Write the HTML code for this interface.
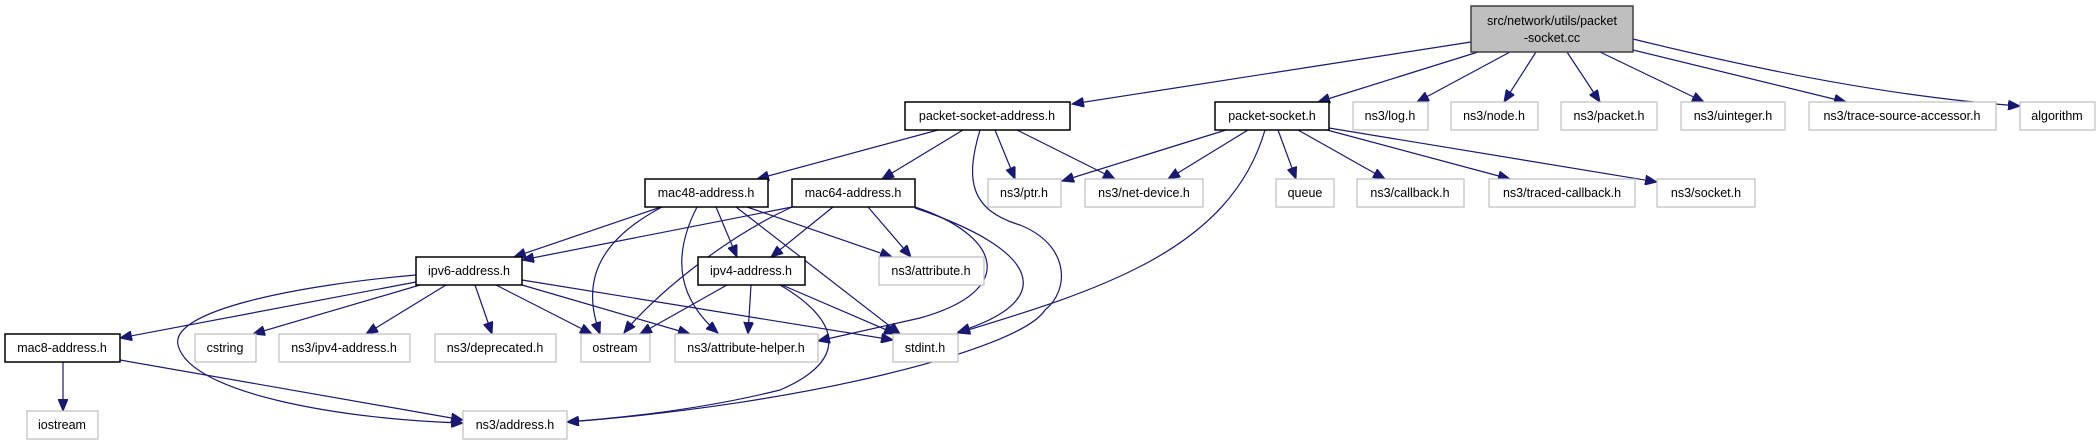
<!DOCTYPE html>
<html><head><meta charset="utf-8"><style>
html,body{margin:0;padding:0;background:#fff;}
svg{display:block;}
text{font-family:"Liberation Sans",sans-serif;font-size:12.5px;fill:#000;text-anchor:middle;}
.i{fill:#fff;stroke:#000;stroke-width:1.5;}
.e{fill:#fff;stroke:#bfbfbf;stroke-width:1.2;}
path{fill:none;stroke:#191970;stroke-width:1.2;}
</style></head><body>
<svg width="2100" height="445" viewBox="0 0 2100 445" xmlns="http://www.w3.org/2000/svg">
<defs><marker id="a" markerUnits="userSpaceOnUse" markerWidth="13" markerHeight="10" refX="12" refY="5" orient="auto"><path d="M0,0 L12,5 L0,10 Z" style="fill:#191970;stroke:#191970;stroke-width:1"/></marker></defs>
<g marker-end="url(#a)">
<!-- top -->
<path d="M1471,42 L1072,104"/>
<path d="M1478,52 L1318,102"/>
<path d="M1510,52 L1417,102"/>
<path d="M1536,52 L1504,102"/>
<path d="M1567,52 L1600,102"/>
<path d="M1600,52 L1704,102"/>
<path d="M1633,50 L1846,102"/>
<path d="M1633,39 Q1860,95 2020,106"/>
<!-- psa -->
<path d="M938,130 L757,179"/>
<path d="M963,130 L882,179"/>
<path d="M995,130 L1015,179"/>
<path d="M1017,130 L1115,179"/>
<path d="M980,130 C965,180 970,210 1020,225 C1070,245 1070,290 1045,310 C1020,350 800,405 567,422"/>
<!-- packet-socket.h -->
<path d="M1226,130 L1062,181"/>
<path d="M1248,130 L1168,179"/>
<path d="M1265,130 C1230,250 1100,290 958,333"/>
<path d="M1278,130 L1296,179"/>
<path d="M1298,130 L1385,179"/>
<path d="M1327,130 L1510,179"/>
<path d="M1329,128 L1657,182"/>
<!-- mac48 -->
<path d="M661,207 L514,257"/>
<path d="M662,207 C600,240 580,280 600,334"/>
<path d="M697,207 C670,260 680,300 718,333"/>
<path d="M716,207 L737,257"/>
<path d="M736,207 L900,334"/>
<path d="M747,207 L892,257"/>
<!-- mac64 -->
<path d="M792,207 L522,260"/>
<path d="M792,207 C720,240 650,300 624,333"/>
<path d="M833,207 L771,257"/>
<path d="M868,207 L911,257"/>
<path d="M915,207 C1000,235 1020,290 920,318 L818,341"/>
<path d="M915,208 C1040,250 1060,300 958,332"/>
<!-- ipv6 -->
<path d="M416,282 L120,338"/>
<path d="M420,285 L253,334"/>
<path d="M446,285 L366,334"/>
<path d="M475,285 L492,334"/>
<path d="M496,285 L592,334"/>
<path d="M522,285 L690,334"/>
<path d="M522,280 L893,340"/>
<path d="M416,275 C300,285 170,310 178,345 C190,395 350,420 463,423"/>
<!-- ipv4 -->
<path d="M727,285 L640,334"/>
<path d="M751,285 L748,334"/>
<path d="M782,285 L896,334"/>
<path d="M780,285 C840,320 850,360 780,390 C700,410 620,418 567,422"/>
<!-- mac8 -->
<path d="M63,362 L63,411"/>
<path d="M120,360 L463,420"/>
</g>
<!-- nodes -->
<rect x="1471" y="6" width="162" height="46" style="fill:#bfbfbf;stroke:#404040;stroke-width:1.5"/>
<text x="1552" y="25">src/network/utils/packet</text><text x="1552" y="42">-socket.cc</text>

<rect class="i" x="905" y="102" width="165" height="28"/><text x="987" y="120">packet-socket-address.h</text>
<rect class="i" x="1215" y="102" width="114" height="28"/><text x="1272" y="120">packet-socket.h</text>
<rect class="e" x="1353" y="102" width="75" height="28"/><text x="1390" y="120">ns3/log.h</text>
<rect class="e" x="1451" y="102" width="87" height="28"/><text x="1494" y="120">ns3/node.h</text>
<rect class="e" x="1561" y="102" width="96" height="28"/><text x="1609" y="120">ns3/packet.h</text>
<rect class="e" x="1681" y="102" width="104" height="28"/><text x="1733" y="120">ns3/uinteger.h</text>
<rect class="e" x="1809" y="102" width="187" height="28"/><text x="1902" y="120">ns3/trace-source-accessor.h</text>
<rect class="e" x="2020" y="102" width="75" height="28"/><text x="2057" y="120">algorithm</text>

<rect class="i" x="645" y="179" width="123" height="28"/><text x="706" y="197">mac48-address.h</text>
<rect class="i" x="792" y="179" width="123" height="28"/><text x="853" y="197">mac64-address.h</text>
<rect class="e" x="988" y="179" width="73" height="28"/><text x="1024" y="197">ns3/ptr.h</text>
<rect class="e" x="1085" y="179" width="118" height="28"/><text x="1144" y="197">ns3/net-device.h</text>
<rect class="e" x="1276" y="179" width="58" height="28"/><text x="1305" y="197">queue</text>
<rect class="e" x="1357" y="179" width="107" height="28"/><text x="1410" y="197">ns3/callback.h</text>
<rect class="e" x="1489" y="179" width="146" height="28"/><text x="1562" y="197">ns3/traced-callback.h</text>
<rect class="e" x="1657" y="179" width="98" height="28"/><text x="1706" y="197">ns3/socket.h</text>

<rect class="i" x="416" y="257" width="106" height="28"/><text x="469" y="275">ipv6-address.h</text>
<rect class="i" x="698" y="257" width="107" height="28"/><text x="751" y="275">ipv4-address.h</text>
<rect class="e" x="879" y="257" width="105" height="28"/><text x="931" y="275">ns3/attribute.h</text>

<rect class="i" x="5" y="334" width="115" height="28"/><text x="62" y="352">mac8-address.h</text>
<rect class="e" x="195" y="334" width="61" height="28"/><text x="225" y="352">cstring</text>
<rect class="e" x="279" y="334" width="131" height="28"/><text x="344" y="352">ns3/ipv4-address.h</text>
<rect class="e" x="435" y="334" width="121" height="28"/><text x="495" y="352">ns3/deprecated.h</text>
<rect class="e" x="581" y="334" width="69" height="28"/><text x="615" y="352">ostream</text>
<rect class="e" x="675" y="334" width="143" height="28"/><text x="746" y="352">ns3/attribute-helper.h</text>
<rect class="e" x="893" y="334" width="65" height="28"/><text x="925" y="352">stdint.h</text>

<rect class="e" x="27" y="411" width="71" height="28"/><text x="62" y="429">iostream</text>
<rect class="e" x="463" y="411" width="104" height="28"/><text x="515" y="429">ns3/address.h</text>
</svg>
</body></html>
